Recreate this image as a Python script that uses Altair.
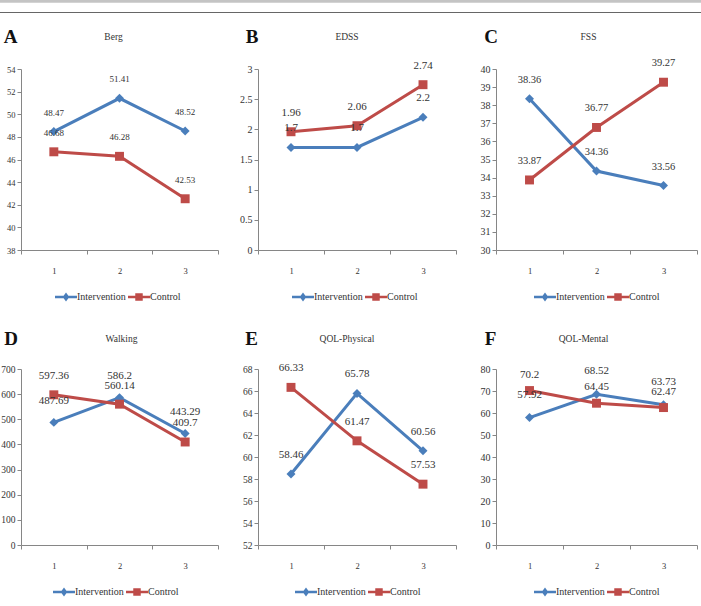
import altair as alt
import pandas as pd

# ---- data -----------------------------------------------------------------
times = ["1", "2", "3"]
series_names = ["Intervention", "Control"]

titles = ["Berg", "EDSS", "FSS", "Walking", "QOL-Physical", "QOL-Mental"]
letters = ["A", "B", "C", "D", "E", "F"]

berg_intervention = [48.47, 51.41, 48.52]
berg_control = [46.68, 46.28, 42.53]
edss_intervention = [1.7, 1.7, 2.2]
edss_control = [1.96, 2.06, 2.74]
fss_intervention = [38.36, 34.36, 33.56]
fss_control = [33.87, 36.77, 39.27]
walking_intervention = [487.69, 586.2, 443.29]
walking_control = [597.36, 560.14, 409.7]
qolp_intervention = [58.46, 65.78, 60.56]
qolp_control = [66.33, 61.47, 57.53]
qolm_intervention = [57.92, 68.52, 63.73]
qolm_control = [70.2, 64.45, 62.47]

berg_ticks = [38, 40, 42, 44, 46, 48, 50, 52, 54]
edss_ticks = [0, 0.5, 1, 1.5, 2, 2.5, 3]
fss_ticks = [30, 31, 32, 33, 34, 35, 36, 37, 38, 39, 40]
walking_ticks = [0, 100, 200, 300, 400, 500, 600, 700]
qolp_ticks = [52, 54, 56, 58, 60, 62, 64, 66, 68]
qolm_ticks = [0, 10, 20, 30, 40, 50, 60, 70, 80]

# ---- styling ----------------------------------------------------------------
FONT = "Liberation Serif"
SERIES_COLORS = ["#4A7EBB", "#BE4B48"]
SERIES_MARKERS = ["diamond", "square"]
AXIS_GREY = "#868686"
TEXT = "#333333"

# legend glyphs: a line segment with the series marker on it
DIAMOND_LINE = "M-1,-0.12H1V0.12H-1Z M0,-0.4L0.3,0L0,0.4L-0.3,0Z"
SQUARE_LINE = "M-1,-0.12H1V0.12H-1Z M-0.34,-0.34H0.34V0.34H-0.34Z"

ROW_H = [181, 176]
ROW_TEXT_Y = [-32, -30]
ROW_LEGEND_Y = [217, 212]

panels = [
    dict(inter=berg_intervention, ctrl=berg_control, ticks=berg_ticks, w=197,
         title_dx=-6, letter_dx=-10.5, legend_x=34, label_fs=9, tick_fs=8.5, dy=(-19, -19)),
    dict(inter=edss_intervention, ctrl=edss_control, ticks=edss_ticks, w=198,
         title_dx=-10, letter_dx=-6, legend_x=34, label_fs=11, tick_fs=10, dy=(-19, -19)),
    dict(inter=fss_intervention, ctrl=fss_control, ticks=fss_ticks, w=201,
         title_dx=-8, letter_dx=-5, legend_x=38, label_fs=10.5, tick_fs=10, dy=(-19, -19)),
    dict(inter=walking_intervention, ctrl=walking_control, ticks=walking_ticks, w=197,
         title_dx=2, letter_dx=-10, legend_x=32, label_fs=11, tick_fs=9.5, dy=(-21.5, -18.5)),
    dict(inter=qolp_intervention, ctrl=qolp_control, ticks=qolp_ticks, w=198,
         title_dx=-10, letter_dx=-6.5, legend_x=37, label_fs=11, tick_fs=9.5, dy=(-19, -19)),
    dict(inter=qolm_intervention, ctrl=qolm_control, ticks=qolm_ticks, w=201,
         title_dx=-13, letter_dx=-5.5, legend_x=38, label_fs=11, tick_fs=10, dy=(-23, -16)),
]


def make_panel(i, cfg):
    row = i // 3
    w, h = cfg["w"], ROW_H[row]
    df = pd.DataFrame({
        "time": times * 2,
        "series": [series_names[0]] * 3 + [series_names[1]] * 3,
        "value": cfg["inter"] + cfg["ctrl"],
    })
    base = alt.Chart(df)

    x = alt.X(
        "time:O",
        scale=alt.Scale(type="band", domain=times, paddingInner=0, paddingOuter=0),
        axis=alt.Axis(title=None, labelAngle=0, tickBand="extent", tickSize=4,
                      labelPadding=12, labelFont=FONT, labelFontSize=8.5,
                      labelColor=TEXT, domainColor=AXIS_GREY, tickColor=AXIS_GREY),
    )
    y = alt.Y(
        "value:Q",
        scale=alt.Scale(domain=[min(cfg["ticks"]), max(cfg["ticks"])], nice=False, zero=False),
        axis=alt.Axis(title=None, values=cfg["ticks"], format="~r", grid=False,
                      tickSize=4, labelPadding=2, labelFont=FONT,
                      labelFontSize=cfg["tick_fs"], labelColor=TEXT,
                      domainColor=AXIS_GREY, tickColor=AXIS_GREY),
    )

    layers = []
    # one line, one set of markers and one set of value labels per series
    for s, name in enumerate(series_names):
        sub = base.transform_filter(alt.datum.series == name)
        col = SERIES_COLORS[s]
        layers.append(sub.mark_line(strokeWidth=3, color=col).encode(x=x, y=y))
        layers.append(sub.mark_point(shape=SERIES_MARKERS[s], filled=True, size=80,
                                     opacity=1, color=col).encode(x=x, y=y))
    for s, name in enumerate(series_names):
        sub = base.transform_filter(alt.datum.series == name)
        layers.append(sub.mark_text(dy=cfg["dy"][s], font=FONT, fontSize=cfg["label_fs"],
                                    color=TEXT).encode(
            x=x, y=y, text=alt.Text("value:Q", format="~r")))

    # the legend comes from its own (empty) layer, with fill + shape glyphs
    legend = alt.Legend(
        orient="none", legendX=cfg["legend_x"], legendY=ROW_LEGEND_Y[row],
        direction="horizontal", title=None, symbolSize=484, symbolStrokeWidth=0,
        labelFont=FONT, labelFontSize=10, labelColor=TEXT, labelOffset=0,
        columnPadding=2, padding=0,
    )
    layers.append(base.transform_filter("false").mark_point(filled=True, opacity=1).encode(
        x=x, y=y,
        fill=alt.Fill("series:N", scale=alt.Scale(domain=series_names, range=SERIES_COLORS),
                      legend=legend),
        shape=alt.Shape("series:N",
                        scale=alt.Scale(domain=series_names, range=[DIAMOND_LINE, SQUARE_LINE]),
                        legend=legend),
    ))

    layers.append(alt.Chart(pd.DataFrame({"label": [titles[i]]})).mark_text(
        font=FONT, fontSize=9.5, color=TEXT, align="center", baseline="middle"
    ).encode(x=alt.value(w / 2 + cfg["title_dx"]), y=alt.value(ROW_TEXT_Y[row]), text="label:N"))
    layers.append(alt.Chart(pd.DataFrame({"label": [letters[i]]})).mark_text(
        font=FONT, fontSize=19, fontWeight="bold", color="#111111", align="center", baseline="middle"
    ).encode(x=alt.value(cfg["letter_dx"]), y=alt.value(ROW_TEXT_Y[row]), text="label:N"))

    if i == 0:
        # page header: grey band and thin rule running across the top
        layers.append(alt.Chart(pd.DataFrame({"k": [0]})).mark_rect(color="#c4c4c4").encode(
            x=alt.value(-21), x2=alt.value(680), y=alt.value(-69), y2=alt.value(-66.3)))
        layers.append(alt.Chart(pd.DataFrame({"k": [0]})).mark_rect(color="#666666").encode(
            x=alt.value(-21), x2=alt.value(680), y=alt.value(-57), y2=alt.value(-56)))

    return alt.layer(*layers).properties(width=w, height=h)


chart = alt.concat(
    *[make_panel(i, cfg) for i, cfg in enumerate(panels)],
    columns=3,
    spacing={"row": 119, "column": 40},
    bounds="flush",
).resolve_scale(
    fill="independent", shape="independent"
).resolve_legend(
    fill="independent", shape="independent"
).properties(
    padding=0, background="white"
).configure_view(stroke=None)

chart.save("out.html", embed_options={"renderer": "svg", "actions": False})
